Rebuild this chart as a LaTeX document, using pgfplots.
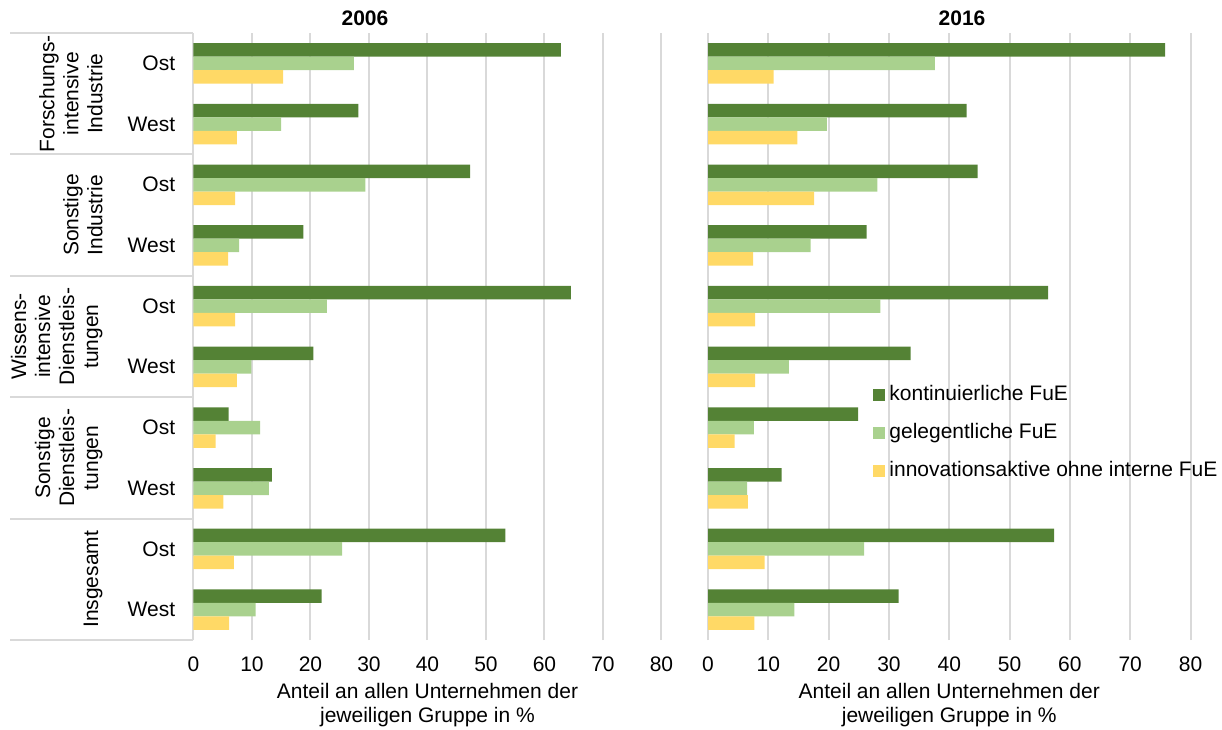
\documentclass[border=0pt]{standalone}
\usepackage{fontspec}
\setmainfont{Liberation Sans}
\usepackage{pgfplots}
\usepackage{pgfplotstable}
\pgfplotsset{compat=1.18}

\definecolor{kont}{HTML}{548235}
\definecolor{gel}{HTML}{A9D18E}
\definecolor{inno}{HTML}{FFD966}
\definecolor{gridgray}{HTML}{D9D9D9}

% pos 9 = top row (FI Ost) ... pos 0 = bottom row (Insgesamt West)
\pgfplotstableread{
pos kont gel inno
9 62.8 27.4 15.3
8 28.2 15.0 7.4
7 47.3 29.4 7.1
6 18.8 7.8 5.9
5 64.5 22.8 7.1
4 20.5 9.9 7.4
3 6.0 11.4 3.8
2 13.4 12.9 5.1
1 53.3 25.4 6.9
0 21.9 10.6 6.1
}\tabA

\pgfplotstableread{
pos kont gel inno
9 75.8 37.6 10.9
8 42.9 19.7 14.8
7 44.7 28.1 17.6
6 26.3 17.0 7.5
5 56.4 28.6 7.8
4 33.6 13.4 7.8
3 24.9 7.6 4.4
2 12.2 6.5 6.6
1 57.4 25.9 9.4
0 31.6 14.3 7.7
}\tabB

\newcommand{\fs}{\fontsize{10.5}{12}\selectfont}

\pgfplotsset{
  panel/.style={
    xbar=0pt, bar width=6.75pt, scale only axis,
    height=303.5pt, anchor=south west,
    xmin=0, xmax=80, ymin=-0.5, ymax=9.5,
    xtick={0,10,...,80}, ytick={0,...,9},
    xmajorgrids, major grid style={gridgray, line width=1pt},
    axis line style={draw=none}, major tick length=0pt,
    tick label style={font=\fs},
    /pgf/number format/assume math mode=true,
    xticklabel style={inner sep=0pt, yshift=-8pt},
    xlabel={Anteil an allen Unternehmen der\\jeweiligen Gruppe in \%},
    xlabel style={align=center, font=\fs, inner sep=0pt,
      at={(axis description cs:0.5,0)}, anchor=north, yshift=-21.5pt},
    clip=false,
  },
  sq/.style={draw=none, fill=#1,
    legend image code/.code={\path[fill=#1] (0pt,-2.9pt) rectangle (5.8pt,2.9pt);}},
}

\begin{document}
\begin{tikzpicture}[every node/.append style={font=\fs}]

\begin{axis}[panel, width=234pt, at={(96.75pt,44.5pt)},
  yticklabels={West,Ost,West,Ost,West,Ost,West,Ost,West,Ost},
  yticklabel style={inner sep=0pt, xshift=-9pt}]
  \addplot[sq=kont, bar shift=6.75pt] table[x=kont, y=pos] {\tabA};
  \addplot[sq=gel, bar shift=0pt] table[x=gel, y=pos] {\tabA};
  \addplot[sq=inno, bar shift=-6.75pt] table[x=inno, y=pos] {\tabA};
  \draw[gridgray, line width=1pt] (axis cs:0,-0.5) -- ++(-91.75pt,0pt);
  \draw[gridgray, line width=1pt] (axis cs:0,1.5) -- ++(-91.75pt,0pt);
  \draw[gridgray, line width=1pt] (axis cs:0,3.5) -- ++(-91.75pt,0pt);
  \draw[gridgray, line width=1pt] (axis cs:0,5.5) -- ++(-91.75pt,0pt);
  \draw[gridgray, line width=1pt] (axis cs:0,7.5) -- ++(-91.75pt,0pt);
  \draw[gridgray, line width=1pt] (axis cs:0,9.5) -- ++(-91.75pt,0pt);
  \node[rotate=90, anchor=south, align=center, inner sep=0pt] at ([xshift=-45.25pt]axis cs:0,8.5) {Forschungs-\\intensive\\Industrie};
  \node[rotate=90, anchor=south, align=center, inner sep=0pt] at ([xshift=-45.25pt]axis cs:0,6.5) {Sonstige\\Industrie};
  \node[rotate=90, anchor=south, align=center, inner sep=0pt] at ([xshift=-45.25pt]axis cs:0,4.5) {Wissens-\\intensive\\Dienstleis-\\tungen};
  \node[rotate=90, anchor=south, align=center, inner sep=0pt] at ([xshift=-45.25pt]axis cs:0,2.5) {Sonstige\\Dienstleis-\\tungen};
  \node[rotate=90, anchor=south, align=center, inner sep=0pt] at ([xshift=-45.25pt]axis cs:0,0.5) {Insgesamt};
\end{axis}

\begin{axis}[panel, width=241.25pt, at={(354pt,44.5pt)},
  yticklabels={},
  legend style={draw=none, fill=none, at={(axis description cs:0.342,0.341)},
    anchor=west, inner sep=0pt, row sep=9.2pt, font=\fs,
    nodes={inner sep=0pt, text height=7.6pt, text depth=2.2pt},
    /tikz/every odd column/.append style={column sep=2.2pt}},
  legend cell align=left]
  \addplot[sq=kont, bar shift=6.75pt] table[x=kont, y=pos] {\tabB};
  \addplot[sq=gel, bar shift=0pt] table[x=gel, y=pos] {\tabB};
  \addplot[sq=inno, bar shift=-6.75pt] table[x=inno, y=pos] {\tabB};
  \legend{kontinuierliche FuE, gelegentliche FuE, innovationsaktive ohne interne FuE}
\end{axis}

\node[font=\bfseries\fs] at (182.5pt,355.5pt) {2006};
\node[font=\bfseries\fs] at (481pt,355.5pt) {2016};

\pgfresetboundingbox
\path[use as bounding box] (0,0) rectangle (611pt,364.5pt);
\end{tikzpicture}
\end{document}
